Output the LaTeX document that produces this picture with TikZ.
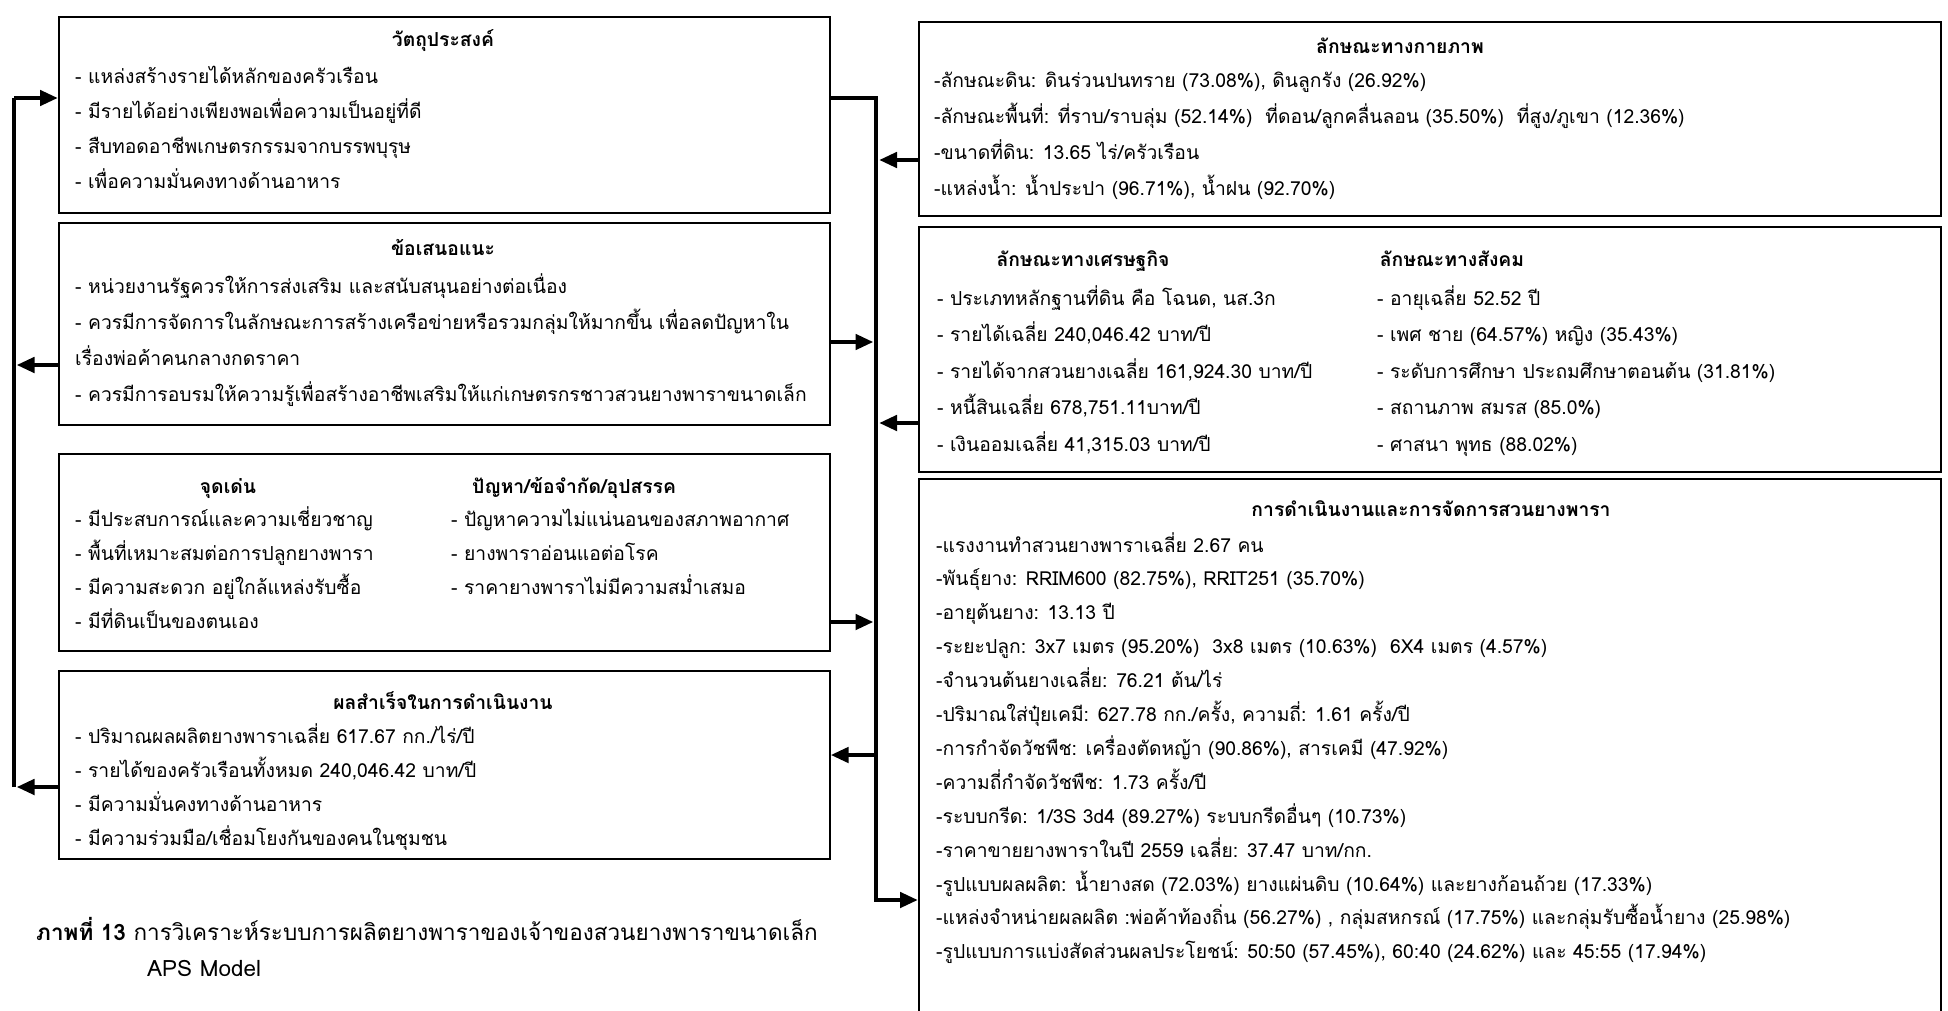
\documentclass[tikz,border=0pt]{standalone}
\usepackage{fontspec}
\setmainfont[Script=Thai]{Loma}
\usetikzlibrary{arrows.meta}

\tikzset{
    box/.style={draw, line width=1.6pt, inner sep=0pt, anchor=north west},
    item/.style={anchor=base west, inner sep=0pt, font=\fontsize{19.3}{23}\selectfont},
    head/.style={anchor=base, inner sep=0pt, font=\fontsize{19.3}{23}\selectfont\bfseries},
    capt/.style={anchor=base west, inner sep=0pt, font=\fontsize{22.5}{27}\selectfont},
    bus/.style={line width=4.5pt, line join=miter},
    flow/.style={line width=4.5pt, line join=miter, -{Triangle[length=18pt,width=15pt]}}
}

\begin{document}
\begin{tikzpicture}[x=1pt, y=-1pt]
        \useasboundingbox (0,0) rectangle (1948,1011);

        % 1. Boxes of the left column
        \node[box, minimum width=771pt, minimum height=196pt] (goal) at (58,16) {};
        \node[box, minimum width=771pt, minimum height=202pt] (advice) at (58,222) {};
        \node[box, minimum width=771pt, minimum height=197pt] (swot) at (58,453) {};
        \node[box, minimum width=771pt, minimum height=188pt] (result) at (58,670) {};

        % 2. Boxes of the right column (the last one runs off the page)
        \node[box, minimum width=1022pt, minimum height=194pt] (phys) at (918,21) {};
        \node[box, minimum width=1022pt, minimum height=245pt] (econ) at (918,226) {};
        \node[box, minimum width=1022pt, minimum height=560pt] (manage) at (918,478) {};

        % 3. Texts of the left column
        \node[head] at (443,47) {วัตถุประสงค์};
        \foreach \t [count=\i] in {
            {- แหล่งสร้างรายได้หลักของครัวเรือน},
            {- มีรายได้อย่างเพียงพอเพื่อความเป็นอยู่ที่ดี},
            {- สืบทอดอาชีพเกษตรกรรมจากบรรพบุรุษ},
            {- เพื่อความมั่นคงทางด้านอาหาร}}
            \node[item] at (75,{84+35*(\i-1)}) {\t};

        \node[head] at (443,255) {ข้อเสนอแนะ};
        \foreach \t [count=\i] in {
            {- หน่วยงานรัฐควรให้การส่งเสริม และสนับสนุนอย่างต่อเนื่อง},
            {- ควรมีการจัดการในลักษณะการสร้างเครือข่ายหรือรวมกลุ่มให้มากขึ้น เพื่อลดปัญหาใน},
            {เรื่องพ่อค้าคนกลางกดราคา},
            {- ควรมีการอบรมให้ความรู้เพื่อสร้างอาชีพเสริมให้แก่เกษตรกรชาวสวนยางพาราขนาดเล็ก}}
            \node[item] at (75,{293+36*(\i-1)}) {\t};

        \node[head] at (228,493) {จุดเด่น};
        \node[head] at (574,493) {ปัญหา/ข้อจำกัด/อุปสรรค};
        \foreach \t [count=\i] in {
            {- มีประสบการณ์และความเชี่ยวชาญ},
            {- พื้นที่เหมาะสมต่อการปลูกยางพารา},
            {- มีความสะดวก อยู่ใกล้แหล่งรับซื้อ},
            {- มีที่ดินเป็นของตนเอง}}
            \node[item] at (75,{526+34.3*(\i-1)}) {\t};
        \foreach \t [count=\i] in {
            {- ปัญหาความไม่แน่นอนของสภาพอากาศ},
            {- ยางพาราอ่อนแอต่อโรค},
            {- ราคายางพาราไม่มีความสม่ำเสมอ}}
            \node[item] at (451,{526+34.3*(\i-1)}) {\t};

        \node[head] at (443,709) {ผลสำเร็จในการดำเนินงาน};
        \foreach \t [count=\i] in {
            {- ปริมาณผลผลิตยางพาราเฉลี่ย 617.67 กก./ไร่/ปี},
            {- รายได้ของครัวเรือนทั้งหมด 240,046.42 บาท/ปี},
            {- มีความมั่นคงทางด้านอาหาร},
            {- มีความร่วมมือ/เชื่อมโยงกันของคนในชุมชน}}
            \node[item] at (75,{743+34*(\i-1)}) {\t};

        % 4. Texts of the right column
        \node[head] at (1400,54) {ลักษณะทางกายภาพ};
        \foreach \t [count=\i] in {
            {-ลักษณะดิน: ดินร่วนปนทราย (73.08\%), ดินลูกรัง (26.92\%)},
            {-ลักษณะพื้นที่: ที่ราบ/ราบลุ่ม (52.14\%)~ ที่ดอน/ลูกคลื่นลอน (35.50\%)~ ที่สูง/ภูเขา (12.36\%)},
            {-ขนาดที่ดิน: 13.65 ไร่/ครัวเรือน},
            {-แหล่งน้ำ: น้ำประปา (96.71\%), น้ำฝน (92.70\%)}}
            \node[item] at (934,{88+36*(\i-1)}) {\t};

        \node[head] at (1083,266) {ลักษณะทางเศรษฐกิจ};
        \node[head] at (1452,266) {ลักษณะทางสังคม};
        \foreach \t [count=\i] in {
            {- ประเภทหลักฐานที่ดิน คือ โฉนด, นส.3ก},
            {- รายได้เฉลี่ย 240,046.42 บาท/ปี},
            {- รายได้จากสวนยางเฉลี่ย 161,924.30 บาท/ปี},
            {- หนี้สินเฉลี่ย 678,751.11บาท/ปี},
            {- เงินออมเฉลี่ย 41,315.03 บาท/ปี}}
            \node[item] at (937,{305+36.5*(\i-1)}) {\t};
        \foreach \t [count=\i] in {
            {- อายุเฉลี่ย 52.52 ปี},
            {- เพศ ชาย (64.57\%) หญิง (35.43\%)},
            {- ระดับการศึกษา ประถมศึกษาตอนต้น (31.81\%)},
            {- สถานภาพ สมรส (85.0\%)},
            {- ศาสนา พุทธ (88.02\%)}}
            \node[item] at (1377,{305+36.5*(\i-1)}) {\t};

        \node[head] at (1431,516) {การดำเนินงานและการจัดการสวนยางพารา};
        \foreach \t [count=\i] in {
            {-แรงงานทำสวนยางพาราเฉลี่ย 2.67 คน},
            {-พันธุ์ยาง: RRIM600 (82.75\%), RRIT251 (35.70\%)},
            {-อายุต้นยาง: 13.13 ปี},
            {-ระยะปลูก: 3x7 เมตร (95.20\%)~ 3x8 เมตร (10.63\%)~ 6X4 เมตร (4.57\%)},
            {-จำนวนต้นยางเฉลี่ย: 76.21 ต้น/ไร่},
            {-ปริมาณใส่ปุ๋ยเคมี: 627.78 กก./ครั้ง, ความถี่: 1.61 ครั้ง/ปี},
            {-การกำจัดวัชพืช: เครื่องตัดหญ้า (90.86\%), สารเคมี (47.92\%)},
            {-ความถี่กำจัดวัชพืช: 1.73 ครั้ง/ปี},
            {-ระบบกรีด: 1/3S 3d4 (89.27\%) ระบบกรีดอื่นๆ (10.73\%)},
            {-ราคาขายยางพาราในปี 2559 เฉลี่ย: 37.47 บาท/กก.},
            {-รูปแบบผลผลิต: น้ำยางสด (72.03\%) ยางแผ่นดิบ (10.64\%) และยางก้อนถ้วย (17.33\%)},
            {-แหล่งจำหน่ายผลผลิต :พ่อค้าท้องถิ่น (56.27\%) , กลุ่มสหกรณ์ (17.75\%) และกลุ่มรับซื้อน้ำยาง (25.98\%)},
            {-รูปแบบการแบ่งสัดส่วนผลประโยชน์: 50:50 (57.45\%), 60:40 (24.62\%) และ 45:55 (17.94\%)}}
            \node[item] at (936,{552+33.9*(\i-1)}) {\t};

        % 5. Caption
        \node[capt] (cap) at (36,940) {\textbf{ภาพที่ 13} การวิเคราะห์ระบบการผลิตยางพาราของเจ้าของสวนยางพาราขนาดเล็ก};
        \node[capt] (aps) at (147,976) {APS Model};

        % 6. Left feedback loop
        \coordinate (ltop) at (14,98);
        \coordinate (lmid) at (16.5,365);
        \coordinate (lbot) at (16.5,787);
        \draw[bus] (14,787) -- (ltop);
        \draw[flow] (ltop) -- (goal.west |- ltop);
        \draw[flow] (advice.west |- lmid) -- (lmid);
        \draw[flow] (result.west |- lbot) -- (lbot);

        % 7. Right bus between the two columns
        \coordinate (rtop) at (876,98);
        \coordinate (rbot) at (876,900);
        \coordinate (rphys) at (879,160);
        \coordinate (radv) at (873.5,342);
        \coordinate (recon) at (879,423);
        \coordinate (rswot) at (873.5,622);
        \coordinate (rres) at (876,755);
        \draw[flow] (goal.east |- rtop) -- (rtop) -- (rbot) -- (manage.west |- rbot);
        \draw[flow] (phys.west |- rphys) -- (rphys);
        \draw[flow] (advice.east |- radv) -- (radv);
        \draw[flow] (econ.west |- recon) -- (recon);
        \draw[flow] (swot.east |- rswot) -- (rswot);
        \draw[flow] (rres) -- (result.east |- rres);

    \end{tikzpicture}
\end{document}
